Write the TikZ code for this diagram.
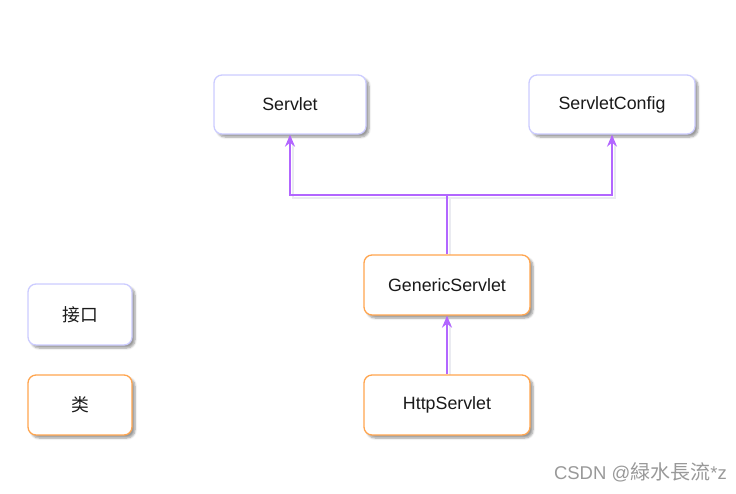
\documentclass[tikz,border=0pt]{standalone}
\usepackage{fontspec}
\setmainfont{Liberation Sans}
\newfontfamily\cjk{Noto Sans CJK SC}
\usetikzlibrary{arrows.meta,shadows.blur}
\definecolor{lav}{HTML}{CCCCFF}
\definecolor{org}{HTML}{FFA54F}
\definecolor{pur}{HTML}{B266FF}
\definecolor{txt}{HTML}{1A1A1A}
\definecolor{shd}{HTML}{8A8FB0}
\tikzset{
  box/.style={draw, rounded corners=8pt, line width=1.3pt, fill=white, inner sep=0pt,
    font=\fontsize{17.8}{20}\selectfont, text=txt,
    blur shadow={shadow xshift=3pt, shadow yshift=-3pt, shadow blur steps=6, shadow blur extra rounding=2pt, shadow opacity=40, shadow scale=1}},
  iface/.style={box, draw=lav},
  klass/.style={box, draw=org},
  conn/.style={draw=pur, line width=1.4pt},
  arr/.style={conn, -{Stealth[length=12pt,width=10pt]}},
  connshadow/.style={draw=shd!18, line width=2.5pt, transform canvas={xshift=3pt,yshift=-3pt}},
}
\begin{document}
\begin{tikzpicture}[x=1pt,y=-1pt]
\useasboundingbox (0,0) rectangle (736,493);
% connector shadows
\coordinate (j) at (447,195);
\draw[connshadow] (447,255) -- (447,195) -| (290,140);
\draw[connshadow] (447,195) -| (612,140);
\draw[connshadow] (447,375) -- (447,320);
% nodes
\node[iface, minimum width=152pt, minimum height=59pt] (servlet) at (290,104.5) {Servlet};
\node[iface, minimum width=166pt, minimum height=59pt] (config) at (612,104.5) {ServletConfig};
\node[klass, minimum width=166pt, minimum height=60pt] (generic) at (447,285) {GenericServlet};
\node[klass, minimum width=166pt, minimum height=60pt] (http) at (447,405) {HttpServlet};
\node[iface, minimum width=104pt, minimum height=61pt] (legi) at (80,314.5) {\cjk 接口};
\node[klass, minimum width=104pt, minimum height=60pt] (legc) at (80,405) {\cjk 类};
% connectors
\draw[arr] (generic.north) -- (j) -| (servlet.south);
\draw[arr] (j) -| (config.south);
\draw[arr] (http.north) -- (generic.south);
% watermark
\node[text=black!40, font=\fontsize{18.5}{20}\selectfont, anchor=east, inner sep=0pt] (wm) at (727,472) {CSDN @{\cjk\fontsize{20}{22}\selectfont 緑水長流}*z};
\end{tikzpicture}
\end{document}
